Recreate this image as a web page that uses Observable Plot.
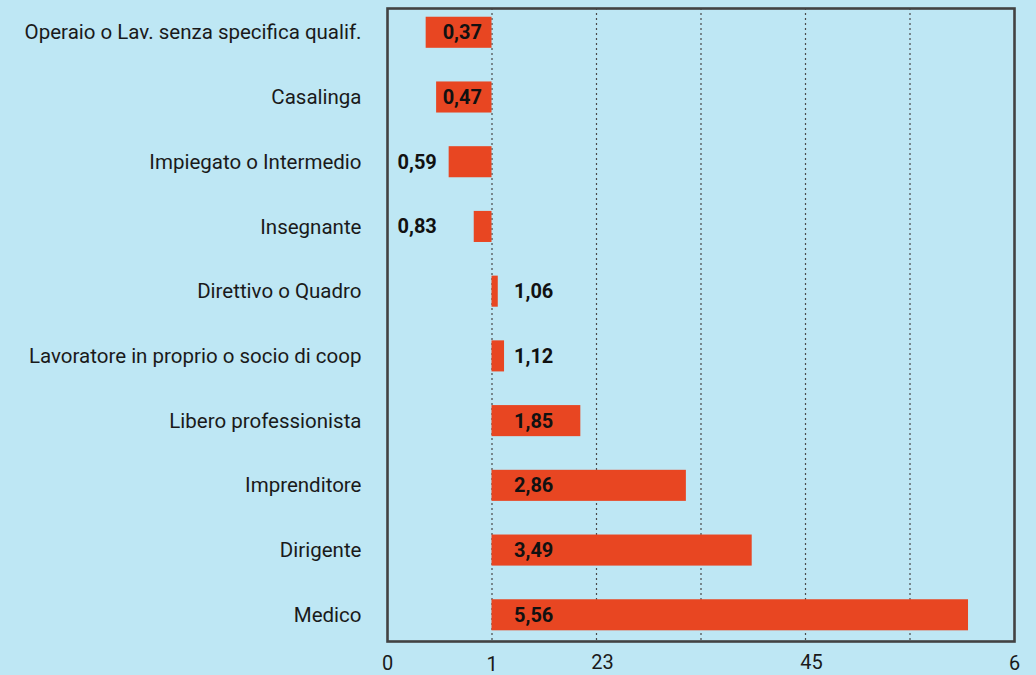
<!DOCTYPE html>
<html>
<head>
<meta charset="utf-8">
<script src="https://cdn.jsdelivr.net/npm/d3@7"></script>
<script src="https://cdn.jsdelivr.net/npm/@observablehq/plot@0.6"></script>
<style>
  html, body { margin: 0; padding: 0; background: #bee7f4; }
  #chart svg { display: block; }
</style>
</head>
<body>
<div id="chart"></div>
<script>
const categories = [
  "Operaio o Lav. senza specifica qualif.",
  "Casalinga",
  "Impiegato o Intermedio",
  "Insegnante",
  "Direttivo o Quadro",
  "Lavoratore in proprio o socio di coop",
  "Libero professionista",
  "Imprenditore",
  "Dirigente",
  "Medico"
];
const values = [0.37, 0.47, 0.59, 0.83, 1.06, 1.12, 1.85, 2.86, 3.49, 5.56];
const baseline = 1;
const gridValues = [1, 2, 3, 4, 5];
const tickValues = [0, 1, 2, 4, 6];
const tickLabels = ["0", "1", "23", "45", "6"];

const data = categories.map((c, i) => ({cat: c, value: values[i]}));
const fmt = v => v.toFixed(2).replace(".", ",");
const tickText = v => tickLabels[tickValues.indexOf(v)];

const font = "Roboto, 'Noto Sans', sans-serif";

const chart = Plot.plot({
  width: 1036,
  height: 675,
  marginLeft: 387,
  marginRight: 22,
  marginTop: 8,
  marginBottom: 34,
  style: {background: "#bee7f4", fontFamily: font, color: "#1a1a1a"},
  x: {domain: [0, 6]},
  y: {domain: categories, paddingInner: 0.52, paddingOuter: 0.15, align: 0.45, round: false},
  marks: [
    Plot.ruleX(gridValues, {stroke: "#4a4a4a", strokeWidth: 1.2, strokeDasharray: "2,3"}),
    Plot.barX(data, {x1: baseline, x2: "value", y: "cat", fill: "#e84622"}),
    Plot.text(data.filter(d => d.value < 0.5), {
      x: baseline, y: "cat", text: d => fmt(d.value), textAnchor: "end", dx: -10,
      fontSize: 20, fontWeight: "bold", fill: "#111"
    }),
    Plot.text(data.filter(d => d.value >= 0.5 && d.value < 1), {
      x: 0, y: "cat", text: d => fmt(d.value), textAnchor: "start", dx: 10,
      fontSize: 20, fontWeight: "bold", fill: "#111"
    }),
    Plot.text(data.filter(d => d.value > 1), {
      x: baseline, y: "cat", text: d => fmt(d.value), textAnchor: "start", dx: 22,
      fontSize: 20, fontWeight: "bold", fill: "#111"
    }),
    Plot.axisY({tickSize: 0, tickPadding: 26, fontSize: 20.5, label: null, fill: "#1a1a1a"}),
    Plot.axisX([0, 6], {tickSize: 0, tickPadding: 14, fontSize: 20, label: null, tickFormat: tickText, fill: "#1a1a1a"}),
    Plot.axisX([1], {tickSize: 0, tickPadding: 15, fontSize: 20, label: null, tickFormat: tickText, fill: "#1a1a1a"}),
    Plot.axisX([2, 4], {tickSize: 0, tickPadding: 13, dx: 6, fontSize: 20, label: null, tickFormat: tickText, fill: "#1a1a1a"}),
    Plot.frame({stroke: "#424242", strokeWidth: 2.6})
  ]
});
document.getElementById("chart").appendChild(chart);
</script>
</body>
</html>
